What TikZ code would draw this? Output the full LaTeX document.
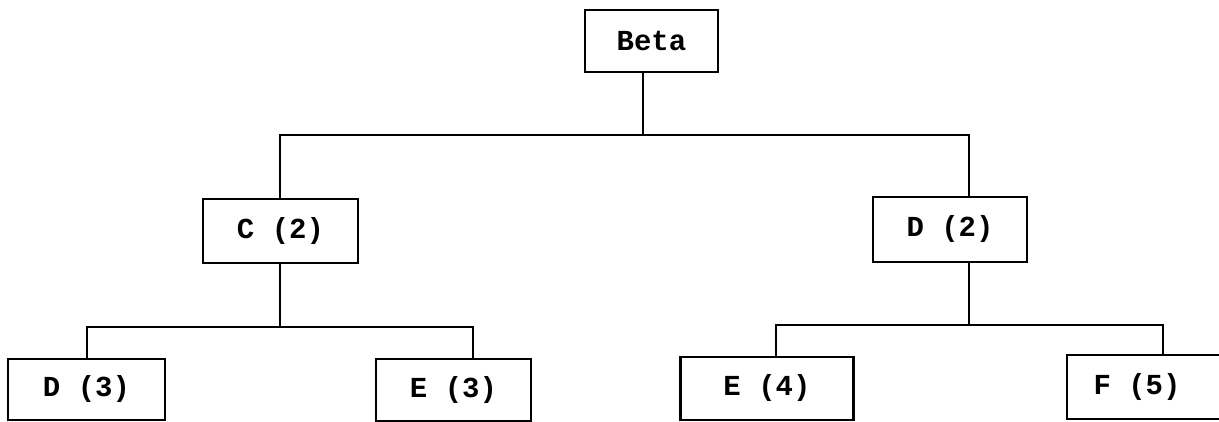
\documentclass[tikz,border=0pt]{standalone}
\usepackage{fontspec}
\newfontfamily\courfont{Liberation Mono}
\begin{document}
\begin{tikzpicture}[x=1pt,y=-1pt,
  box/.style={draw=black, line width=2.4pt, fill=white, inner sep=0pt,
    font=\courfont\bfseries\fontsize{29}{34}\selectfont},
  wire/.style={draw=black, line width=2.4pt},
  lbl/.style={inner sep=0pt, font=\courfont\bfseries\fontsize{29}{34}\selectfont}]
\useasboundingbox (0,0) rectangle (1219,422);
\fill[white] (0,0) rectangle (1219,422);
\clip (0,0) rectangle (1219,422);
% boxes
\node[box, minimum width=133pt, minimum height=62pt] (Beta) at (651.5,41) {Beta};
\node[box, minimum width=155pt, minimum height=64pt] (C2) at (280.5,231) {C (2)};
\node[box, minimum width=154pt, minimum height=65pt] (D2) at (950,229.5) {D (2)};
\node[box, minimum width=157pt, minimum height=61pt] (D3) at (86.5,389.5) {D (3)};
\node[box, minimum width=155pt, minimum height=62pt] (E3) at (453.5,390) {E (3)};
\node[box, minimum width=173pt, minimum height=63pt] (E4) at (767,388.5) {E (4)};
\node[box, minimum width=180pt, minimum height=64pt, anchor=west] (F5) at (1066,387) {};
\node[lbl] (F5t) at (1137,387) {F (5)};
% junctions
\coordinate (j0) at (643,135);
\coordinate (jc) at (280,135);
\coordinate (jd) at (969,135);
\coordinate (k0) at (280,327);
\coordinate (k1) at (87,327);
\coordinate (k2) at (473,327);
\coordinate (m0) at (969,325);
\coordinate (m1) at (776,325);
\coordinate (m2) at (1163,325);
% connectors
\draw[wire] (Beta.south -| j0) -- (j0);
\draw[wire] (C2.north -| jc) -- (jc) -- (jd) -- (D2.north -| jd);
\draw[wire] (C2.south -| k0) -- (k0);
\draw[wire] (D3.north -| k1) -- (k1) -- (k2) -- (E3.north -| k2);
\draw[wire] (D2.south -| m0) -- (m0);
\draw[wire] (E4.north -| m1) -- (m1) -- (m2) -- (F5.north -| m2);
\end{tikzpicture}
\end{document}
